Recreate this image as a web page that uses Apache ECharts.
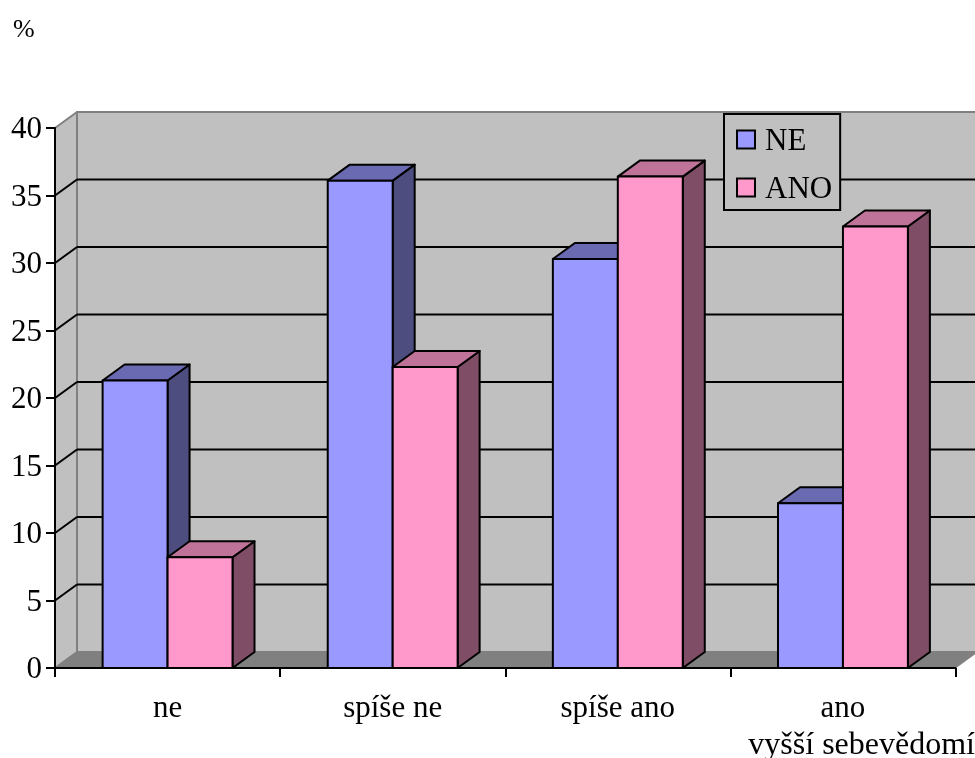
<!DOCTYPE html>
<html><head><meta charset="utf-8">
<style>html,body{margin:0;padding:0;background:#fff}#c{width:975px;height:758px}</style>
<script src="https://cdn.jsdelivr.net/npm/echarts@6/dist/echarts.min.js"></script>
</head><body><div id="c"></div>
<script>
var categories = ['ne', 'spíše ne', 'spíše ano', 'ano'];
var valuesNE = [21.3, 36.1, 30.3, 12.2];
var valuesANO = [8.2, 22.3, 36.4, 32.7];
var yTicks = [5, 10, 15, 20, 25, 30, 35];
var FONT = '"Liberation Serif","Times New Roman",serif';
var DX = 22, DY = -16;
var BAR = 0.2885;

function poly(points, fill, stroke, w) {
  return { type: 'polygon', shape: { points: points },
    style: { fill: fill, stroke: stroke, lineWidth: w, lineJoin: 'round' } };
}
function line(x1, y1, x2, y2, stroke, w) {
  return { type: 'line', shape: { x1: x1, y1: y1, x2: x2, y2: y2 },
    style: { stroke: stroke, lineWidth: w, fill: null } };
}
function wallsItem(params, api) {
  var r = params.coordSys, x0 = r.x, x1 = r.x + r.width, y0 = r.y, y1 = r.y + r.height;
  return { type: 'group', children: [
    poly([[x0 + DX, y0 + DY], [x1 + DX, y0 + DY], [x1 + DX, y1 + DY], [x0 + DX, y1 + DY]], '#c0c0c0', '#808080', 2),
    poly([[x0, y0], [x0 + DX, y0 + DY], [x0 + DX, y1 + DY], [x0, y1]], '#c0c0c0', '#808080', 2),
    poly([[x0, y1], [x0 + DX, y1 + DY], [x1 + DX, y1 + DY], [x1, y1]], '#808080', '#808080', 1)
  ]};
}
function gridItem(params, api) {
  var r = params.coordSys;
  var y = api.coord([0, api.value(0)])[1];
  return { type: 'group', children: [
    line(r.x, y, r.x + DX, y + DY, '#000', 2),
    line(r.x + DX, y + DY, r.x + r.width + DX, y + DY, '#000', 2)
  ]};
}
function barRenderer(offset, front, top, side) {
  return function (params, api) {
    var c = api.coord([api.value(0), api.value(1)]);
    var base = api.coord([api.value(0), 0])[1];
    var w = api.size([1, 0])[0] * BAR;
    var l = c[0] + offset * w, rr = l + w, t = c[1];
    return { type: 'group', children: [
      poly([[rr, t], [rr + DX, t + DY], [rr + DX, base + DY], [rr, base]], side, '#000', 2),
      poly([[l, t], [l + DX, t + DY], [rr + DX, t + DY], [rr, t]], top, '#000', 2),
      poly([[l, t], [rr, t], [rr, base], [l, base]], front, '#000', 2)
    ]};
  };
}
function pairs(arr) { return arr.map(function (v, i) { return [i, v]; }); }

var chart = echarts.init(document.getElementById('c'), null, { renderer: 'canvas' });
chart.setOption({
  animation: false,
  backgroundColor: '#fff',
  title: [
    { text: '%', left: 13, top: 17, padding: 0, textStyle: { fontFamily: FONT, fontSize: 26, fontWeight: 'normal', color: '#000' } },
    { text: 'vyšší sebevědomí', right: 0, top: 730, padding: 0, textStyle: { fontFamily: FONT, fontSize: 32, fontWeight: 'normal', color: '#000' } }
  ],
  grid: { left: 55, top: 128, width: 900.5, height: 540 },
  legend: {
    orient: 'vertical', left: 724, top: 114,
    padding: [12, 8, 5, 12],
    itemWidth: 18, itemHeight: 18, itemGap: 17,
    backgroundColor: '#c0c0c0', borderColor: '#000', borderWidth: 2,
    formatter: '{a|{name}}',
    textStyle: { fontFamily: FONT, fontSize: 31, color: '#000', padding: [0, 0, 0, 5],
      rich: { a: { fontFamily: FONT, fontSize: 31, color: '#000', padding: [4, 0, 0, 0] } } },
    data: [
      { name: 'NE', icon: 'rect', itemStyle: { color: '#9999ff', borderColor: '#000', borderWidth: 2 } },
      { name: 'ANO', icon: 'rect', itemStyle: { color: '#ff99cc', borderColor: '#000', borderWidth: 2 } }
    ]
  },
  xAxis: {
    type: 'category', data: categories, z: 2,
    axisLine: { show: true, lineStyle: { color: '#000', width: 2 } },
    axisTick: { show: true, length: 9, alignWithLabel: false, lineStyle: { color: '#000', width: 2 } },
    axisLabel: { margin: 25, fontFamily: FONT, fontSize: 31, color: '#000', interval: 0 }
  },
  yAxis: {
    type: 'value', min: 0, max: 40, interval: 5, z: 2,
    axisLine: { show: true, lineStyle: { color: '#000', width: 2 } },
    axisTick: { show: true, length: 9, lineStyle: { color: '#000', width: 2 } },
    splitLine: { show: false },
    axisLabel: { margin: 13, fontFamily: FONT, fontSize: 31, color: '#000', verticalAlign: 'top', lineHeight: 4 }
  },
  series: [
    { type: 'custom', name: 'walls', z: 1, silent: true, clip: false, renderItem: wallsItem, data: [[0, 0]] },
    { type: 'custom', name: 'grid', z: 1, silent: true, clip: false, renderItem: gridItem, data: yTicks.map(function (t) { return [t]; }) },
    { type: 'custom', name: 'NE', z: 3, clip: false, itemStyle: { color: '#9999ff' },
      renderItem: barRenderer(-1, '#9999ff', '#6a6ab3', '#4d4d80'), encode: { x: 0, y: 1 }, data: pairs(valuesNE) },
    { type: 'custom', name: 'ANO', z: 3, clip: false, itemStyle: { color: '#ff99cc' },
      renderItem: barRenderer(0, '#ff99cc', '#bf7399', '#804d66'), encode: { x: 0, y: 1 }, data: pairs(valuesANO) }
  ]
});
</script></body></html>
